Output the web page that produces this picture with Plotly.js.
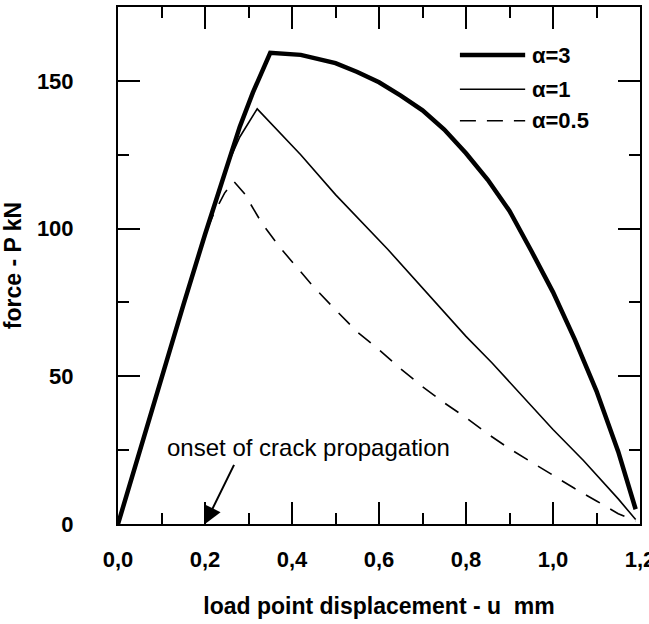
<!DOCTYPE html>
<html>
<head>
<meta charset="utf-8">
<script src="https://cdn.plot.ly/plotly-3.0.1.min.js"></script>
<style>html,body{margin:0;padding:0;background:#fff;}#chart{width:649px;height:624px;}</style>
</head>
<body>
<div id="chart"></div>
<script>
// α = 3 (thick)
const x_a3 = [0, 0.05, 0.10, 0.15, 0.20, 0.25, 0.28, 0.31, 0.35, 0.42, 0.50, 0.55, 0.60, 0.65, 0.70, 0.75, 0.80, 0.85, 0.90, 0.95, 1.00, 1.05, 1.10, 1.15, 1.19];
const y_a3 = [0, 25, 49, 74, 98, 121.5, 134.5, 146, 159.5, 158.8, 156, 153, 149.5, 145, 140, 133.5, 125.5, 116.5, 106, 92.5, 78.5, 62.5, 45, 24.5, 5];
// α = 1 (thin)
const x_a1 = [0, 0.05, 0.10, 0.15, 0.20, 0.25, 0.28, 0.32, 0.42, 0.50, 0.62, 0.70, 0.80, 0.86, 0.90, 1.00, 1.07, 1.15, 1.19];
const y_a1 = [0, 25, 49, 74, 98, 121, 131, 140.5, 125, 111.5, 93, 80, 63.5, 54.5, 48, 32, 21.5, 8.5, 1.5];
// α = 0.5 (dashed)
const x_a05 = [0, 0.05, 0.10, 0.15, 0.20, 0.22, 0.245, 0.266, 0.29, 0.33, 0.37, 0.41, 0.45, 0.50, 0.55, 0.60, 0.65, 0.70, 0.75, 0.80, 0.85, 0.90, 0.95, 1.00, 1.05, 1.10, 1.15, 1.19];
const y_a05 = [0, 25, 49, 74, 98, 105, 112, 116, 112, 102, 94, 87, 80.2, 72.5, 65, 59, 52.5, 46.5, 41, 36, 30.5, 25.5, 21, 16.7, 12, 7.8, 3.5, 1];

const seriesNames = ['α=3', 'α=1', 'α=0.5'];
const xTickVals = [0, 0.2, 0.4, 0.6, 0.8, 1.0, 1.2];
const yTickVals = [0, 50, 100, 150];
const annotationText = 'onset of crack propagation';
const xTitle = 'load point displacement - u  mm';
const yTitle = 'force - P kN';

const FONT = '"Liberation Sans", Arial, Helvetica, sans-serif';

const traces = [
  {x: x_a3, y: y_a3, name: seriesNames[0], mode: 'lines', line: {color: '#000', width: 4.5}, showlegend: false},
  {x: x_a1, y: y_a1, name: seriesNames[1], mode: 'lines', line: {color: '#000', width: 1.6}, showlegend: false},
  {x: x_a05, y: y_a05, name: seriesNames[2], mode: 'lines', line: {color: '#000', width: 1.6, dash: '16px,12px'}, showlegend: false}
];

// manual legend (paper coordinates)
const legRows = [0.907, 0.841, 0.780];
const legStyles = [
  {width: 4.5, dash: 'solid'},
  {width: 1.6, dash: 'solid'},
  {width: 1.6, dash: '16px,11px'}
];
const shapes = legRows.map((yy, i) => ({
  type: 'line', xref: 'paper', yref: 'paper', x0: 0.655, x1: 0.780, y0: yy, y1: yy,
  line: {color: '#000', width: legStyles[i].width, dash: legStyles[i].dash}
}));
const annotations = legRows.map((yy, i) => ({
  xref: 'paper', yref: 'paper', x: 0.790, y: yy, xanchor: 'left', yanchor: 'middle',
  text: seriesNames[i], showarrow: false,
  font: {family: FONT, size: 22, color: '#000', weight: 'bold'}
}));
annotations.push({
  x: 0.2, y: 0, xref: 'x', yref: 'y', axref: 'x', ayref: 'y', ax: 0.269, ay: 20.7, text: ' ',
  showarrow: true, arrowhead: 2, arrowsize: 1.75, arrowwidth: 2, arrowcolor: '#000', standoff: 0,
  font: {size: 1}
});
annotations.push({
  x: 0.108, y: 26, xref: 'x', yref: 'y', xanchor: 'left', yanchor: 'middle',
  text: annotationText, showarrow: false,
  font: {family: FONT, size: 24, color: '#000'}
});

const layout = {
  width: 649, height: 624,
  margin: {l: 118, r: 9, t: 7, b: 100},
  paper_bgcolor: '#fff', plot_bgcolor: '#fff',
  separators: ',.',
  showlegend: false,
  font: {family: FONT, color: '#000'},
  xaxis: {
    range: [0, 1.2], tickvals: xTickVals, tickformat: '.1f',
    showline: true, linewidth: 2, linecolor: '#000', mirror: 'ticks',
    ticks: 'inside', ticklen: 22, tickwidth: 2, tickcolor: '#000',
    minor: {dtick: 0.1, tick0: 0, ticks: 'inside', ticklen: 11, tickwidth: 2, tickcolor: '#000'},
    showgrid: false, zeroline: false,
    tickfont: {family: FONT, size: 22, color: '#000', weight: 'bold'},
    ticklabelstandoff: 15, ticklabeloverflow: 'allow',
    title: {text: xTitle, standoff: 26, font: {family: FONT, size: 23, color: '#000', weight: 'bold'}}
  },
  yaxis: {
    range: [0, 175], tickvals: yTickVals,
    showline: true, linewidth: 2, linecolor: '#000', mirror: 'ticks',
    ticks: 'inside', ticklen: 22, tickwidth: 2, tickcolor: '#000',
    minor: {dtick: 25, tick0: 0, ticks: 'inside', ticklen: 11, tickwidth: 2, tickcolor: '#000'},
    showgrid: false, zeroline: false,
    tickfont: {family: FONT, size: 22, color: '#000', weight: 'bold'},
    ticklabelstandoff: 38, ticklabeloverflow: 'allow',
    title: {text: yTitle, standoff: 18, font: {family: FONT, size: 23, color: '#000', weight: 'bold'}}
  },
  shapes: shapes,
  annotations: annotations
};

Plotly.newPlot('chart', traces, layout, {displayModeBar: false, staticPlot: true});
</script>
</body>
</html>
